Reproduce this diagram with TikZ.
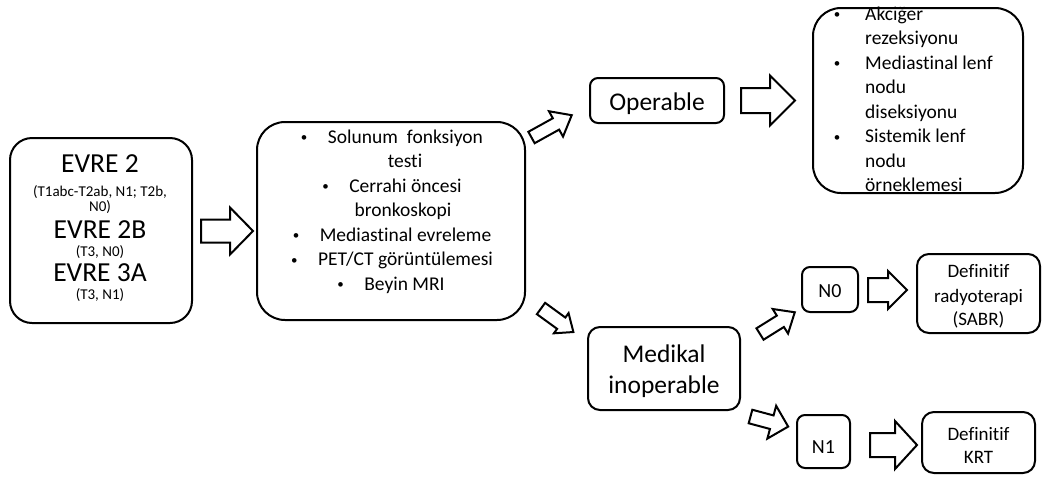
\documentclass[tikz,border=0pt]{standalone}
\usepackage{fontspec}
\setmainfont{Carlito}[Ligatures=NoCommon]
\newcommand{\blockarr}[7]{%
  \begin{scope}[shift={(#1,#2)},rotate=#3]
    \draw[barrowstyle] (0,-#5) -- ({#4-#7},-#5) -- ({#4-#7},-#6) -- (#4,0)
      -- ({#4-#7},#6) -- ({#4-#7},#5) -- (0,#5) -- cycle;
  \end{scope}}
\newcommand{\smbul}{\raisebox{1.5pt}{\fontsize{13}{13}\selectfont\textbullet}}
\newcommand{\bul}{\makebox[27pt][l]{\smbul}}
\begin{document}
\begin{tikzpicture}[x=1pt,y=-1pt,
  box/.style={draw, line width=2pt, inner sep=0pt},
  barrowstyle/.style={draw, line width=2pt, line join=miter, fill=white},
  txt/.style={inner sep=0pt, anchor=base},
  ltxt/.style={inner sep=0pt, anchor=base west},
  big/.style={font=\fontsize{27.5}{27.5}\selectfont},
  sml/.style={font=\fontsize{15}{15}\selectfont},
  lst/.style={font=\fontsize{19.5}{19.5}\selectfont},
  mid/.style={font=\fontsize{25.5}{25.5}\selectfont},
  nsz/.style={font=\fontsize{20}{20}\selectfont},
  dsz/.style={font=\fontsize{19}{19}\selectfont}]
\useasboundingbox (0,0) rectangle (1056,480);

% boxes
\node[box, rounded corners=22pt, minimum width=182pt, minimum height=185pt] (stage) at (101,230.5) {};
\node[box, rounded corners=28pt, minimum width=268pt, minimum height=198pt] (tests) at (391,221) {};
\node[box, rounded corners=28pt, minimum width=210pt, minimum height=185pt] (surg) at (918,100.5) {};
\node[box, rounded corners=8pt, minimum width=134pt, minimum height=45pt] (oper) at (657,100.5) {};
\node[box, rounded corners=12pt, minimum width=152pt, minimum height=83pt] (inop) at (664,368.5) {};
\node[box, rounded corners=8pt, minimum width=56pt, minimum height=45pt] (nzero) at (830,289.5) {};
\node[box, rounded corners=8pt, minimum width=53pt, minimum height=53pt] (none) at (823.5,441.5) {};
\node[box, rounded corners=12pt, minimum width=123pt, minimum height=79pt] (sabr) at (978.5,293.5) {};
\node[box, rounded corners=12pt, minimum width=113pt, minimum height=61pt] (krt) at (978.5,442.5) {};

% stage text
\node[txt, big] (s1) at (100,172.5) {EVRE 2};
\node[txt, sml] (s1a) at (100,196.5) {(T1abc-T2ab, N1; T2b,};
\node[txt, sml] (s1b) at (100,211.5) {N0)};
\node[txt, big] (s2) at (100,238) {EVRE 2B};
\node[txt, sml] (s2a) at (100,256) {(T3, N0)};
\node[txt, big] (s3) at (100,281.5) {EVRE 3A};
\node[txt, sml] (s3a) at (100,299) {(T3, N1)};

% tests text
\node[txt, lst] (t1) at (392,143) {\bul Solunum\hspace{9pt}fonksiyon};
\node[txt, lst] (t2) at (405,167.5) {testi};
\node[txt, lst] (t3) at (392,192) {\bul Cerrahi öncesi};
\node[txt, lst] (t4) at (403,216.5) {bronkoskopi};
\node[txt, lst] (t5) at (392,241) {\bul Mediastinal evreleme};
\node[txt, lst] (t6) at (392,265.5) {\bul PET/CT görüntülemesi};
\node[txt, lst] (t7) at (391,290) {\bul Beyin MRI};

% surgery text
\begin{scope}
\clip (800,-40) rectangle (1040,191);
\node[txt, lst] (b1) at (837,20) {\smbul};
\node[ltxt, lst] (u1) at (865,20) {Akciğer};
\node[ltxt, lst] (u2) at (865,44.5) {rezeksiyonu};
\node[txt, lst] (b2) at (837,69) {\smbul};
\node[ltxt, lst] (u3) at (865,69) {Mediastinal lenf};
\node[ltxt, lst] (u4) at (865,93.5) {nodu};
\node[ltxt, lst] (u5) at (865,118) {diseksiyonu};
\node[txt, lst] (b3) at (837,142.5) {\smbul};
\node[ltxt, lst] (u6) at (865,142.5) {Sistemik lenf};
\node[ltxt, lst] (u7) at (865,167) {nodu};
\node[ltxt, lst] (u8) at (865,191.5) {örneklemesi};
\end{scope}

% other texts
\node[txt, mid] (o1) at (657,110) {Operable};
\node[txt, mid] (m1) at (664,362) {Medikal};
\node[txt, mid] (m2) at (664,393) {inoperable};
\node[txt, nsz] (n0t) at (830,297) {N0};
\node[txt, nsz] (n1t) at (823.5,453) {N1};
\node[txt, dsz] (d1) at (978.5,277) {Definitif};
\node[txt, dsz] (d2) at (978.5,302) {radyoterapi};
\node[txt, dsz] (d3) at (978.5,325) {(SABR)};
\node[txt, dsz] (k1) at (978.5,440) {Definitif};
\node[txt, dsz] (k2) at (978.5,463) {KRT};

% block arrows
\blockarr{201}{231}{0}{52}{11.5}{23.5}{23}
\blockarr{531.5}{137.5}{29}{46}{6.5}{14.5}{18}
\blockarr{541}{308.5}{-36}{40}{7}{12.5}{15}
\blockarr{741}{100.5}{0}{54}{12.5}{25}{25}
\blockarr{760}{334}{32}{41}{6.7}{14.5}{17}
\blockarr{750.5}{416.5}{-15}{39}{7}{17}{17}
\blockarr{868}{290}{0}{39}{12}{19}{19}
\blockarr{870}{445}{0}{47}{12}{24}{22}
\end{tikzpicture}
\end{document}
